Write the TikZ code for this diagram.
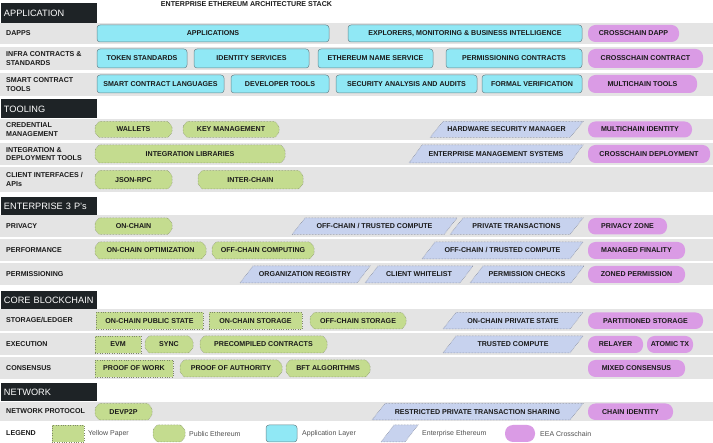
\documentclass[tikz,border=0pt]{standalone}
\usepackage{fontspec}
\setmainfont{Liberation Sans}
\definecolor{bandgray}{HTML}{E4E4E4}
\definecolor{hdrblack}{HTML}{1E2326}
\definecolor{appcyan}{HTML}{90E8F5}
\definecolor{cyanedge}{HTML}{6A858C}
\definecolor{ypgreen}{HTML}{C4DC8F}
\definecolor{greenedge}{HTML}{7E8868}
\definecolor{eelav}{HTML}{C7D2EE}
\definecolor{lavedge}{HTML}{7A8090}
\definecolor{xpink}{HTML}{DA9BE5}
\definecolor{txt}{HTML}{1A1A1A}
\definecolor{legtxt}{HTML}{505050}
\newcommand\bfx{\fontsize{7.1}{8.5}\selectfont\bfseries}
\tikzset{
  lbl/.style={font=\bfx, text=txt, inner sep=0pt, outer sep=0pt, text height=5pt, text depth=0pt},
  rowlbl/.style={font=\bfx, text=txt, inner sep=0pt, anchor=west, align=left},
  hdr/.style={fill=hdrblack, text=white, font=\fontsize{9.2}{10}\selectfont, anchor=north west,
    inner xsep=3pt, inner ysep=0pt, text width=90pt, align=left, outer sep=0pt},
  appbox/.style={lbl, fill=appcyan, draw=cyanedge, line width=0.5pt, rounded corners=3pt},
  ypbox/.style={lbl, fill=ypgreen, draw=greenedge, line width=0.4pt, dotted},
  xbox/.style={lbl, fill=xpink, rounded corners=7.5pt},
  octshape/.style={fill=ypgreen, draw=greenedge, line width=0.5pt, densely dotted, rounded corners=1pt},
  parashape/.style={fill=eelav, draw=lavedge, line width=0.5pt, densely dotted},
  legtext/.style={font=\fontsize{7}{8}\selectfont, text=legtxt, anchor=west, inner sep=0pt}
}
\newcommand\nbox[7]{\node[#1, minimum width={(#4-#3)*1pt}, minimum height={(#6-#5)*1pt}] (#2) at ({(#3+#4)/2},{(#5+#6)/2}) {#7};}
\newcommand\obox[6]{\draw[octshape] (#2,#4+5) -- (#2+4,#4) -- (#3-4,#4) -- (#3,#4+5) -- (#3,#5-5) -- (#3-4,#5) -- (#2+4,#5) -- (#2,#5-5) -- cycle;
  \node[lbl] (#1) at ({(#2+#3)/2},{(#4+#5)/2}) {#6};}
\newcommand\pbox[6]{\draw[parashape] (#2,#5) -- (#2+13,#4) -- (#3,#4) -- (#3-13,#5) -- cycle;
  \node[lbl] (#1) at ({(#2+#3)/2},{(#4+#5)/2}) {#6};}
\begin{document}
\begin{tikzpicture}[x=1pt,y=-1pt]
\useasboundingbox[fill=white] (0,0) rectangle (713,443);
% bands
\foreach \a/\b in {23/44,47/70,73/96,119/140,143/165,167/192,215/237,239/261,263/285,309/331,333/355,357/379,402/421}
  \fill[bandgray] (0,\a) rectangle (713,\b);
% headers
\node[hdr, minimum height=20pt] (hApp) at (1,3) {APPLICATION};
\node[hdr, minimum height=19pt] (hTool) at (1,99.5) {TOOLING};
\node[hdr, minimum height=18pt] (hEnt) at (1,197) {ENTERPRISE 3 P's};
\node[hdr, minimum height=17.5pt] (hCore) at (1,291.5) {CORE BLOCKCHAIN};
\node[hdr, minimum height=18pt] (hNet) at (1,383.5) {NETWORK};
\node[lbl] (title) at (246.5,4.5) {ENTERPRISE ETHEREUM ARCHITECTURE STACK};
% row labels
\node[rowlbl] (lDapps) at (6,33) {DAPPS};
\node[rowlbl] (lInfra) at (6,58.5) {INFRA CONTRACTS \&\\STANDARDS};
\node[rowlbl] (lSmart) at (6,84.5) {SMART CONTRACT\\TOOLS};
\node[rowlbl] (lCred) at (6,129.5) {CREDENTIAL\\MANAGEMENT};
\node[rowlbl] (lInteg) at (6,154) {INTEGRATION \&\\DEPLOYMENT TOOLS};
\node[rowlbl] (lClient) at (6,179.5) {CLIENT INTERFACES /\\APIs};
\node[rowlbl] (lPriv) at (6,226) {PRIVACY};
\node[rowlbl] (lPerf) at (6,250) {PERFORMANCE};
\node[rowlbl] (lPerm) at (6,274) {PERMISSIONING};
\node[rowlbl] (lStor) at (6,320) {STORAGE/LEDGER};
\node[rowlbl] (lExec) at (6,344) {EXECUTION};
\node[rowlbl] (lCons) at (6,368) {CONSENSUS};
\node[rowlbl] (lNetp) at (6,411.5) {NETWORK PROTOCOL};
\node[rowlbl] (lLeg) at (6,433.5) {LEGEND};
% row 1
\nbox{appbox}{applications}{97}{329}{25}{42}{APPLICATIONS}
\nbox{appbox}{explorers}{348}{582}{25}{42}{EXPLORERS, MONITORING \& BUSINESS INTELLIGENCE}
\nbox{xbox}{ccdapp}{588}{679}{25}{42}{CROSSCHAIN DAPP}
% row 2
\nbox{appbox}{token}{97}{187}{49}{68}{TOKEN STANDARDS}
\nbox{appbox}{identity}{194}{309}{49}{68}{IDENTITY SERVICES}
\nbox{appbox}{ens}{318}{433}{49}{68}{ETHEREUM NAME SERVICE}
\nbox{appbox}{permcontracts}{446}{582}{49}{68}{PERMISSIONING CONTRACTS}
\nbox{xbox}{cccontract}{588}{703}{49}{68}{CROSSCHAIN CONTRACT}
% row 3
\nbox{appbox}{sclang}{97}{224}{75}{93}{SMART CONTRACT LANGUAGES}
\nbox{appbox}{devtools}{231}{329}{75}{93}{DEVELOPER TOOLS}
\nbox{appbox}{security}{336}{477}{75}{93}{SECURITY ANALYSIS AND AUDITS}
\nbox{appbox}{formal}{482}{582}{75}{93}{FORMAL VERIFICATION}
\nbox{xbox}{mctools}{588}{697}{75}{93}{MULTICHAIN TOOLS}
% row 4
\obox{wallets}{95}{172}{121.5}{137.5}{WALLETS}
\obox{keymgmt}{183}{279}{121.5}{137.5}{KEY MANAGEMENT}
\pbox{hsm}{430}{583}{121.5}{137.5}{HARDWARE SECURITY MANAGER}
\nbox{xbox}{mcid}{588}{692}{121.5}{137.5}{MULTICHAIN IDENTITY}
% row 5
\obox{intlib}{95}{285}{145}{163}{INTEGRATION LIBRARIES}
\pbox{ems}{409}{583}{145}{163}{ENTERPRISE MANAGEMENT SYSTEMS}
\nbox{xbox}{ccdeploy}{588}{710}{145}{163}{CROSSCHAIN DEPLOYMENT}
% row 6
\obox{jsonrpc}{95}{172}{170.5}{189}{JSON-RPC}
\obox{interchain}{198}{303}{170.5}{189}{INTER-CHAIN}
% row 7
\obox{onchain}{95}{172}{218}{234.5}{ON-CHAIN}
\pbox{offtc}{292}{457}{218}{234.5}{OFF-CHAIN / TRUSTED COMPUTE}
\pbox{privtx}{450}{583}{218}{234.5}{PRIVATE TRANSACTIONS}
\nbox{xbox}{privzone}{588}{667}{218}{234.5}{PRIVACY ZONE}
% row 8
\obox{onopt}{95}{206}{242}{259}{ON-CHAIN OPTIMIZATION}
\obox{offcomp}{212}{314}{242}{259}{OFF-CHAIN COMPUTING}
\pbox{offtcb}{422}{583}{242}{259}{OFF-CHAIN / TRUSTED COMPUTE}
\nbox{xbox}{finality}{588}{685}{242}{259}{MANAGED FINALITY}
% row 9
\pbox{orgreg}{240}{370}{266}{283}{ORGANIZATION REGISTRY}
\pbox{whitelist}{365}{473}{266}{283}{CLIENT WHITELIST}
\pbox{permchk}{470}{584}{266}{283}{PERMISSION CHECKS}
\nbox{xbox}{zoned}{588}{685}{266}{283}{ZONED PERMISSION}
% row 10
\nbox{ypbox}{onpub}{96}{203}{312.5}{329}{ON-CHAIN PUBLIC STATE}
\nbox{ypbox}{onstor}{209}{302}{312.5}{329}{ON-CHAIN STORAGE}
\obox{offstor}{310}{406}{312.5}{329}{OFF-CHAIN STORAGE}
\pbox{onpriv}{443}{583}{312.5}{329}{ON-CHAIN PRIVATE STATE}
\nbox{xbox}{partstor}{588}{703}{312.5}{329}{PARTITIONED STORAGE}
% row 11
\nbox{ypbox}{evm}{95}{141}{336}{353}{EVM}
\obox{sync}{145}{193}{336}{353}{SYNC}
\obox{precomp}{200}{327}{336}{353}{PRECOMPILED CONTRACTS}
\pbox{trusted}{443}{583}{336}{353}{TRUSTED COMPUTE}
\nbox{xbox}{relayer}{588}{643}{336}{353}{RELAYER}
\nbox{xbox}{atomic}{647}{693}{336}{353}{ATOMIC TX}
% row 12
\nbox{ypbox}{pow}{95}{173}{360}{377}{PROOF OF WORK}
\obox{poa}{180}{282}{360}{377}{PROOF OF AUTHORITY}
\obox{bft}{286}{370}{360}{377}{BFT ALGORITHMS}
\nbox{xbox}{mixed}{588}{685}{360}{377}{MIXED CONSENSUS}
% row 13
\obox{devp2p}{95}{152}{403.5}{420}{DEVP2P}
\pbox{restricted}{372}{583}{403.5}{420}{RESTRICTED PRIVATE TRANSACTION SHARING}
\nbox{xbox}{chainid}{588}{673}{403.5}{420}{CHAIN IDENTITY}
% legend
\nbox{ypbox}{lgyp}{52}{84}{425}{442}{}
\node[legtext] (typ) at (88,433.5) {Yellow Paper};
\obox{lgpe}{153}{185}{425}{442}{}
\node[legtext] (tpe) at (189,433.5) {Public Ethereum};
\nbox{appbox}{lgal}{266}{297}{425}{442}{}
\node[legtext] (tal) at (302,433.5) {Application Layer};
\pbox{lgee}{381}{418}{425}{442}{}
\node[legtext] (tee) at (422,433.5) {Enterprise Ethereum};
\nbox{xbox, rounded corners=8pt}{lgx}{505}{535}{425}{442}{}
\node[legtext] (tx) at (540,433.5) {EEA Crosschain};
\end{tikzpicture}
\end{document}
